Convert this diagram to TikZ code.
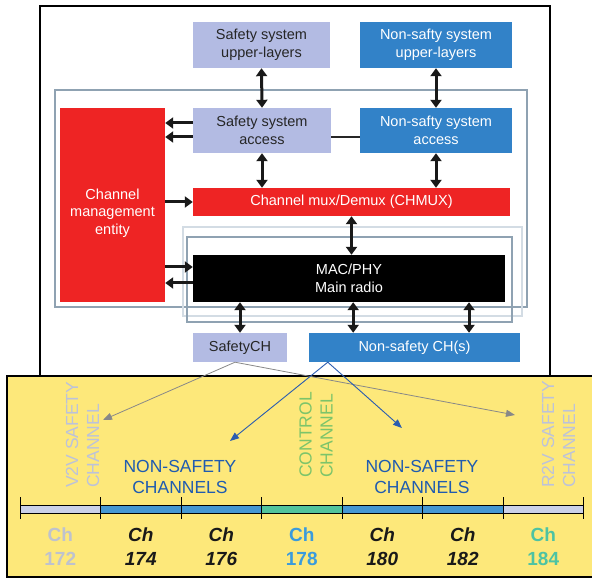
\documentclass[tikz,border=0pt]{standalone}
\usepackage{fontspec}
\setmainfont{Liberation Sans}
\usetikzlibrary{arrows.meta,calc}
\definecolor{lav}{HTML}{B3BBE3}
\definecolor{nsblue}{HTML}{3282C8}
\definecolor{cred}{HTML}{EE2424}
\definecolor{ylw}{HTML}{FDE87A}
\definecolor{framec}{HTML}{8FA2B2}
\definecolor{framel}{HTML}{D3DCE4}
\definecolor{dkblue}{HTML}{1F5BB0}
\definecolor{lgray}{HTML}{BCC2DA}
\definecolor{cgreen}{HTML}{7CC46A}
\definecolor{barblue}{HTML}{4597D3}
\definecolor{bargreen}{HTML}{52C39C}
\definecolor{barlav}{HTML}{CBD1E8}
\definecolor{chgray}{HTML}{BEC2CE}
\definecolor{ch178}{HTML}{3A9BDC}
\definecolor{ch184}{HTML}{4DC3A3}
\definecolor{conngray}{HTML}{888888}
\definecolor{connblue}{HTML}{2A5CB0}
\newcommand\bxfont{\fontsize{14.5}{17.5}\selectfont}
\newcommand\ylfont{\fontsize{17.5}{21}\selectfont}
\newcommand\chfont{\fontsize{19}{23}\selectfont\bfseries}
\begin{document}
\begin{tikzpicture}[x=1pt,y=-1pt,
  anybox/.style={align=center, inner sep=0, font=\bxfont},
  lavbox/.style={anybox, fill=lav, text=black!85},
  bluebox/.style={anybox, fill=nsblue, text=white},
  redbox/.style={anybox, fill=cred, text=white},
  blackbox/.style={anybox, fill=black, text=white},
  dbl/.style={{Triangle[length=8pt,width=11pt]}-{Triangle[length=8pt,width=11pt]}, line width=3pt, black!90},
  sgl/.style={-{Triangle[length=8pt,width=11pt]}, line width=3pt, black!90},
  grayconn/.style={-{Triangle[length=9pt,width=7pt]}, line width=0.8pt, conngray},
  blueconn/.style={-{Triangle[length=9pt,width=7pt]}, line width=0.9pt, connblue},
  vlabel/.style={rotate=90, anchor=west, align=left, inner sep=0, font=\ylfont},
  hlabel/.style={align=center, inner sep=0, font=\ylfont, text=dkblue},
  chlabel/.style={align=center, inner sep=0, font=\chfont}
]
\useasboundingbox (0,0) rectangle (592,580);

% backgrounds
\draw[fill=ylw, line width=2pt] (7,376) rectangle (596,577);
\draw[fill=white, line width=2pt] (40,6) rectangle (550,376);

% frames
\draw[framec, line width=1.5pt] (55,90) rectangle (527,307);
\draw[framel, line width=1.2pt] (183,227) rectangle (522,316);
\draw[framec, line width=1.2pt] (187,237) rectangle (512,322);

% boxes
\node[lavbox, minimum width=137, minimum height=46] (su) at (261.5,45) {Safety system\\upper-layers};
\node[bluebox, minimum width=152, minimum height=46] (nu) at (436,45) {Non-safty system\\upper-layers};
\node[lavbox, minimum width=138, minimum height=45] (sa) at (262,130.5) {Safety system\\access};
\node[bluebox, minimum width=152, minimum height=45] (na) at (436,130.5) {Non-safty system\\access};
\node[redbox, minimum width=105, minimum height=194] (cme) at (112.5,205) {};
\node[anybox, text=white] (cmetext) at (112.5,213) {Channel\\management\\entity};
\node[redbox, minimum width=317, minimum height=28] (mux) at (351.5,202) {Channel mux/Demux (CHMUX)};
\node[blackbox, minimum width=312, minimum height=47] (mac) at (349,278.5) {MAC/PHY\\Main radio};
\node[lavbox, minimum width=94, minimum height=29] (sch) at (240,347.5) {SafetyCH};
\node[bluebox, minimum width=211, minimum height=29] (nsch) at (414.5,347.5) {Non-safety CH(s)};

% black arrows
\draw[dbl] (su.south) -- (sa.north);
\draw[dbl] (nu.south) -- (na.north);
\draw[dbl] (sa.south) -- (sa.south |- mux.north);
\draw[dbl] (na.south) -- (na.south |- mux.north);
\draw[dbl] (mux.south) -- (mux.south |- mac.north);
\draw[dbl] (sch.north) -- (sch.north |- mac.south);
\coordinate (m1) at ($(nsch.north west)!0.21!(nsch.north east)$);
\coordinate (m2) at ($(nsch.north west)!0.758!(nsch.north east)$);
\draw[dbl] (m1) -- (m1 |- mac.south);
\draw[dbl] (m2) -- (m2 |- mac.south);
\draw[sgl] (sa.west |- 0,123) -- (cme.east |- 0,123);
\draw[sgl] (sa.west |- 0,137) -- (cme.east |- 0,137);
\draw[sgl] (cme.east |- mux.west) -- (mux.west);
\draw[sgl] (cme.east |- 0,267) -- (mac.west |- 0,267);
\draw[sgl] (mac.west |- 0,283) -- (cme.east |- 0,283);
\draw[line width=2pt, black!85] (sa.east |- 0,137) -- (na.west |- 0,137);

% connectors to the channel plan
\coordinate (sapex) at ($(sch.south)+(-5,0)$);
\coordinate (napex) at ($(nsch.south west)+(19,0)$);
\coordinate (v2vtip) at (103,420);
\coordinate (r2vtip) at (515,415);
\coordinate (ns1tip) at (230,441);
\coordinate (ns2tip) at (402,428);
\draw[grayconn] (sapex) -- (v2vtip);
\draw[grayconn] (sapex) -- (r2vtip);
\draw[blueconn] (napex) -- (ns1tip);
\draw[blueconn] (napex) -- (ns2tip);

% channel texts
\node[vlabel, text=lgray] (v2v) at (82.5,488) {V2V SAFETY\\CHANNEL};
\node[vlabel, text=cgreen] (ctrl) at (316,478) {CONTROL\\CHANNEL};
\node[vlabel, text=lgray] (r2v) at (558.5,488) {R2V SAFETY\\CHANNEL};
\node[hlabel] (ns1) at (180,477) {NON-SAFETY\\CHANNELS};
\node[hlabel] (ns2) at (422,477) {NON-SAFETY\\CHANNELS};

% channel bar
\foreach \i/\c in {0/barlav,1/barblue,2/barblue,3/bargreen,4/barblue,5/barblue,6/barlav}{
  \fill[\c] ({20+80.5*\i},505) rectangle ({20+80.5*(\i+1)},513);
}
\draw[line width=0.9pt] (20,505) -- (583.5,505) (20,513) -- (583.5,513);
\foreach \i in {0,...,7}{
  \draw[line width=0.9pt] ({20+80.5*\i},497) -- ({20+80.5*\i},519);
}
\node[chlabel, text=chgray] (c172) at (60.25,546.5) {Ch\\[1pt]172};
\node[chlabel, text=black!90] (c174) at (140.75,546.5) {\itshape Ch\\[1pt]\itshape 174};
\node[chlabel, text=black!90] (c176) at (221.25,546.5) {\itshape Ch\\[1pt]\itshape 176};
\node[chlabel, text=ch178] (c178) at (301.75,546.5) {Ch\\[1pt]178};
\node[chlabel, text=black!90] (c180) at (382.25,546.5) {\itshape Ch\\[1pt]\itshape 180};
\node[chlabel, text=black!90] (c182) at (462.75,546.5) {\itshape Ch\\[1pt]\itshape 182};
\node[chlabel, text=ch184] (c184) at (543.25,546.5) {Ch\\[1pt]184};
\end{tikzpicture}
\end{document}
